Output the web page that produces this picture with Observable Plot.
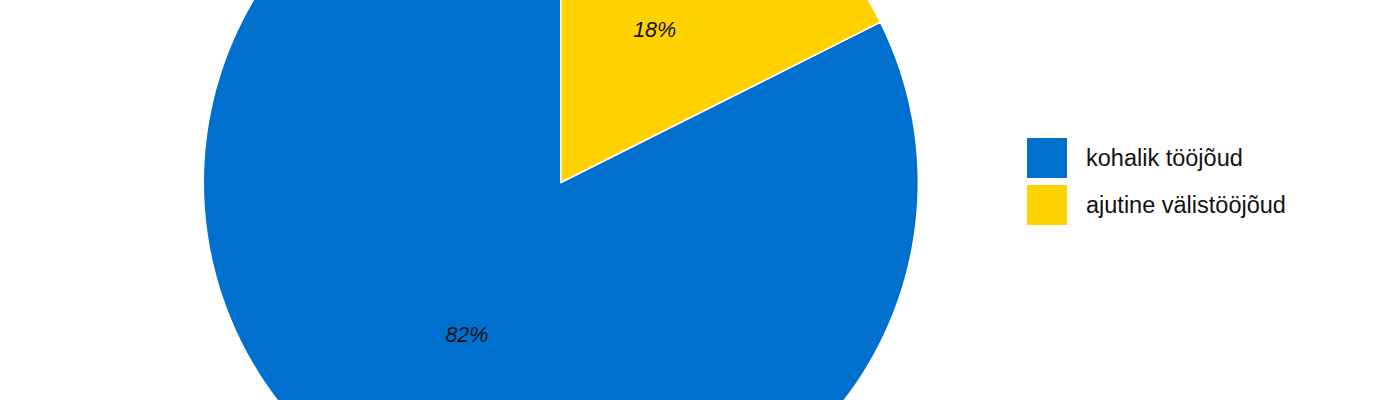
<!DOCTYPE html>
<html>
<head>
<meta charset="utf-8">
<script src="https://cdn.jsdelivr.net/npm/d3@7"></script>
<script src="https://cdn.jsdelivr.net/npm/@observablehq/plot@0.6"></script>
<style>
  html, body { margin: 0; padding: 0; background: #fff; }
  #wrap { position: relative; width: 1400px; height: 400px; overflow: hidden; font-family: "Liberation Sans", Arial, sans-serif; }
  #legend { position: absolute; left: 1027px; top: 138px; }
  .row { display: flex; align-items: center; height: 40px; margin-bottom: 7px; }
  .sw { width: 40px; height: 40px; margin-right: 19px; }
  .lab { font-size: 23.5px; color: #111; line-height: 40px; }
</style>
</head>
<body>
<div id="wrap"><div id="chart"></div><div id="legend"></div></div>
<script>
const categories = ["kohalik tööjõud", "ajutine välistööjõud"];
const shares = [82.4, 17.6];
const colors = ["#0070CF", "#FFD200"];

// pie geometry (angles clockwise from 12 o'clock), yellow slice starting at top
const total = d3.sum(shares);
const a0 = 2 * Math.PI * shares[1] / total;
const arcs = d3.pie().sort(null).value(d => d.v).startAngle(a0).endAngle(a0 + 2 * Math.PI)(
  categories.map((c, i) => ({name: c, v: shares[i]}))
);

const outline = [];
for (const a of arcs) {
  const name = a.data.name;
  outline.push({name, x: 0, y: 0});
  const n = Math.max(2, Math.ceil((a.endAngle - a.startAngle) / (Math.PI / 360)));
  for (let k = 0; k <= n; k++) {
    const t = a.startAngle + (a.endAngle - a.startAngle) * k / n;
    outline.push({name, x: Math.sin(t), y: Math.cos(t)});
  }
  outline.push({name, x: 0, y: 0});
}
const labels = arcs.map(a => {
  const m = (a.startAngle + a.endAngle) / 2;
  return {name: a.data.name, x: 0.5 * Math.sin(m), y: 0.5 * Math.cos(m), text: Math.round(a.data.v / total * 100) + "%"};
});

const R = 357.5, cx = 560.3, cy = 182;
const plot = Plot.plot({
  width: 1400, height: 400,
  margin: 0,
  style: {fontFamily: "Liberation Sans, Arial, sans-serif", background: "transparent"},
  x: {domain: [-cx / R, (1400 - cx) / R], axis: null},
  y: {domain: [-(400 - cy) / R, cy / R], axis: null},
  color: {domain: categories, range: colors},
  marks: [
    Plot.line(outline, {x: "x", y: "y", z: "name", fill: "name", stroke: "white", strokeWidth: 1.5, curve: "linear"}),
    Plot.text(labels, {x: "x", y: "y", text: "text", fontSize: 21.5, fontStyle: "italic", fill: "#111"})
  ]
});
document.getElementById("chart").appendChild(plot);

const lg = d3.select("#legend");
categories.forEach((c, i) => {
  const r = lg.append("div").attr("class", "row");
  r.append("div").attr("class", "sw").style("background", colors[i]);
  r.append("div").attr("class", "lab").text(c);
});
</script>
</body>
</html>
